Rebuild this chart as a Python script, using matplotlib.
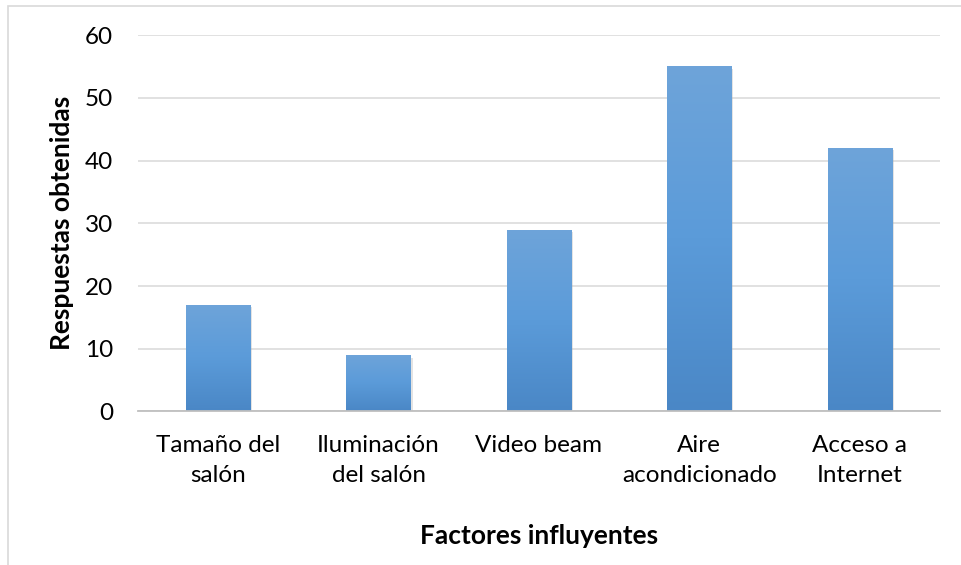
import numpy as np
import matplotlib.pyplot as plt
from matplotlib.patches import Rectangle
from matplotlib.colors import LinearSegmentedColormap

# Data
categories = ['Tamaño del\nsalón', 'Iluminación\ndel salón', 'Video beam',
              'Aire\nacondicionado', 'Acceso a\nInternet']
respuestas = [17, 9, 29, 55, 42]
y_ticks = [0, 10, 20, 30, 40, 50, 60]

plt.rcParams['font.family'] = ['Lato', 'DejaVu Sans']

fig = plt.figure(figsize=(9.61, 5.65), dpi=100)
ax = fig.add_axes([0.1436, 0.2717, 0.978 - 0.1436, 0.938 - 0.2717])

# outer chart frame (left and top edges visible)
fig.patches.append(Rectangle((8 / 961, -0.1), 1.2, 1 - 6 / 565 + 0.1,
                             transform=fig.transFigure, fill=False,
                             edgecolor='#d9d9d9', linewidth=1.2))

x = np.arange(len(categories))
bars = ax.bar(x, respuestas, width=0.4, color='#5b9bd5', zorder=3)

# vertical gradient inside each bar, lighter at the top
grad_cmap = LinearSegmentedColormap.from_list('g', ['#4a87c6', '#5b9bd9', '#6ea4da'])
gradient = np.linspace(0, 1, 256).reshape(-1, 1)
for b in bars:
    x0, y0 = b.get_x(), b.get_y()
    w, h = b.get_width(), b.get_height()
    # soft shadow
    ax.add_patch(Rectangle((x0 + 0.012, y0 - 0.4), w, h, facecolor='#b0b0b0',
                           alpha=0.35, edgecolor='none', zorder=2))
    im = ax.imshow(gradient, extent=[x0, x0 + w, y0, y0 + h], origin='lower',
                   cmap=grad_cmap, aspect='auto', zorder=3)
    im.set_clip_path(b)

ax.set_xlim(-0.5, len(categories) - 0.5)
ax.set_ylim(0, 60)
ax.set_yticks(y_ticks)
ax.set_xticks(x)
ax.set_xticklabels(categories, fontsize=17.5, linespacing=1.5)
ax.tick_params(axis='y', labelsize=17.5, length=0, pad=18)
ax.tick_params(axis='x', length=0, pad=17)

ax.grid(axis='y', color='#d9d9d9', linewidth=1.1, zorder=0)
for s in ['top', 'right', 'left']:
    ax.spines[s].set_visible(False)
ax.spines['bottom'].set_color('#bfbfbf')
ax.spines['bottom'].set_linewidth(1.3)
ax.spines['bottom'].set_zorder(4)

ax.set_ylabel('Respuestas obtenidas', fontsize=19, fontweight='bold', labelpad=8)
ax.set_xlabel('Factores influyentes', fontsize=19, fontweight='bold', labelpad=28)

fig.savefig('out.png', dpi=100, facecolor='white')
